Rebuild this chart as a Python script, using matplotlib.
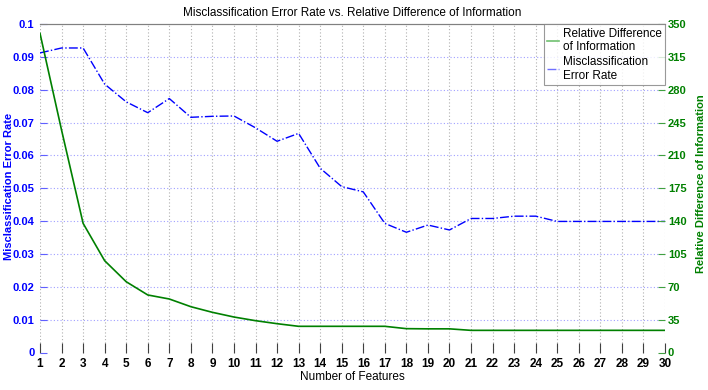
import matplotlib
matplotlib.use("Agg")
import matplotlib.pyplot as plt
from matplotlib.lines import Line2D

plt.rcParams['font.family'] = ['Liberation Sans', 'DejaVu Sans']

features = list(range(1, 31))
error_rate = [0.0912, 0.0927, 0.0927, 0.0817, 0.0763, 0.0730, 0.0773, 0.0716,
              0.0719, 0.0720, 0.0684, 0.0643, 0.0667, 0.0561, 0.0505, 0.0489,
              0.0393, 0.0366, 0.0388, 0.0373, 0.0408, 0.0408, 0.0415, 0.0415,
              0.0399, 0.0399, 0.0399, 0.0399, 0.0399, 0.0399]
rel_diff = [340.0, 237.0, 137.6, 97.8, 75.4, 61.3, 57.0, 48.8, 42.8, 37.8,
            33.9, 30.7, 27.9, 27.9, 27.9, 27.9, 27.9, 25.4, 25.2, 25.2,
            23.6, 23.6, 23.6, 23.6, 23.6, 23.6, 23.6, 23.6, 23.6, 23.6]
left_ticks = [0, 0.01, 0.02, 0.03, 0.04, 0.05, 0.06, 0.07, 0.08, 0.09, 0.1]
left_labels = ['0', '0.01', '0.02', '0.03', '0.04', '0.05', '0.06', '0.07', '0.08', '0.09', '0.1']
right_ticks = [0, 35, 70, 105, 140, 175, 210, 245, 280, 315, 350]

fig = plt.figure(figsize=(7.08, 3.9), dpi=100)
ax = fig.add_axes([40/708, 1-352.5/390, 625/708, 328.5/390])
ax2 = ax.twinx()

ax.set_xlim(1, 30)
ax.set_ylim(0, 0.1)
ax2.set_ylim(0, 350)

# grids
for t in features:
    ax.axvline(t, color='#b0b0b0', lw=0.8, ls=(0, (1, 2)), zorder=0)
for t in left_ticks[1:-1]:
    ax.axhline(t, color='#a0a0ff', lw=0.8, ls=(0, (1, 2)), zorder=0)

ax.plot(features, error_rate, color='#0000ff', lw=1.0, ls='-.', zorder=3)
ax2.plot(features, rel_diff, color='#008000', lw=1.2, zorder=3)

for a in (ax, ax2):
    for s in ('left', 'right', 'bottom'):
        a.spines[s].set_visible(False)
    a.spines['top'].set_color('#808080')
    a.spines['top'].set_linewidth(0.8)
    a.patch.set_visible(False)

ax.set_xticks(features)
ax.set_xticklabels([str(f) for f in features], fontsize=8.5, fontweight='bold')
ax.tick_params(axis='x', direction='in', length=7, color='#404040', pad=4)
ax.set_yticks(left_ticks)
ax.set_yticklabels(left_labels, fontsize=8, fontweight='bold', color='#0000ff')
ax.tick_params(axis='y', direction='in', length=5, color='#6060ff', pad=4)
ax2.set_yticks(right_ticks)
ax2.set_yticklabels([str(t) for t in right_ticks], fontsize=8, fontweight='bold', color='#008000')
ax2.tick_params(axis='y', direction='in', length=5, color='#40a040', pad=2)

ax.set_xlabel('Number of Features', fontsize=8.5, labelpad=1)
ax.set_ylabel('Misclassification Error Rate', fontsize=8, fontweight='bold', color='#0000ff')
ax.yaxis.set_label_coords(-0.041, 0.505)
ax2.set_ylabel('Relative Difference of Information', fontsize=8, fontweight='bold', color='#008000')
ax2.yaxis.set_label_coords(1.05, 0.515)
ax.set_title('Misclassification Error Rate vs. Relative Difference of Information', fontsize=8.5, pad=6)

handles = [Line2D([], [], color='#70c070', lw=1.2),
           Line2D([], [], color='#7070ff', lw=1.0, ls='-.')]
leg = ax2.legend(handles, ['Relative Difference\nof Information', 'Misclassification\nError Rate'],
                 loc='upper right', bbox_to_anchor=(1.0, 1.0), fontsize=8.5,
                 handlelength=1.0, handletextpad=0.3, borderpad=0.3, labelspacing=0.2,
                 frameon=True, fancybox=False, borderaxespad=0)
leg.get_frame().set_edgecolor('#808080')
leg.get_frame().set_linewidth(0.8)

fig.savefig('out.png', dpi=100)
